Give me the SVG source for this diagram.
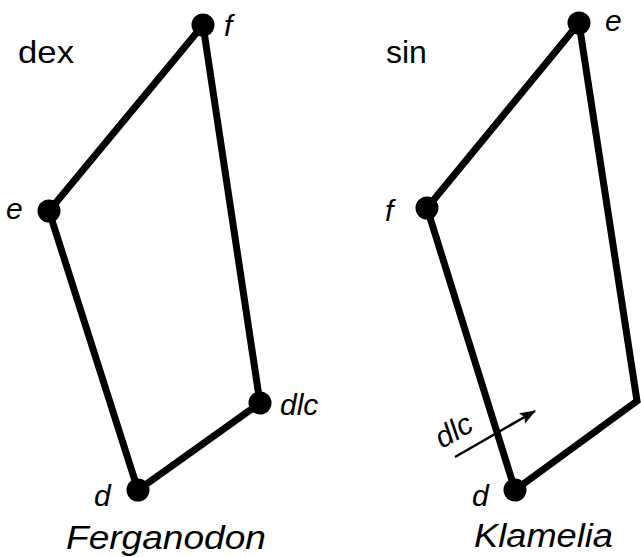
<svg xmlns="http://www.w3.org/2000/svg" width="641" height="557" viewBox="0 0 641 557">
<defs>
<style>
.edge{fill:none;stroke:#000;stroke-width:7;stroke-linejoin:miter;stroke-linecap:round}
.node{fill:#000}
.lbl{font-family:"Liberation Sans",Arial,sans-serif;font-style:italic;font-size:30px;fill:#000}
.side{font-family:"Liberation Sans",Arial,sans-serif;font-size:32px;fill:#000}
.name{font-family:"Liberation Sans",Arial,sans-serif;font-style:italic;font-size:33px;fill:#000}
</style>
<marker id="ah2" viewBox="0 0 16 12" refX="15" refY="6" markerWidth="16" markerHeight="12" markerUnits="userSpaceOnUse" orient="auto">
<path d="M0,0 L16,6 L0,12 L3,6 z" fill="#000"/>
</marker>
</defs>
<rect width="641" height="557" fill="#fff"/>
<g id="connectors">
<polygon class="edge" points="203,25 49,211 138,490 260,403"/>
<polyline class="edge" points="427,208 579,23 637,401 515,490 427,208"/>
<line x1="455" y1="457" x2="535" y2="411" stroke="#000" stroke-width="2.5" marker-end="url(#ah2)"/>
</g>
<g id="left-f"><circle class="node" cx="203" cy="25" r="11.5"/><text class="lbl" x="224" y="36">f</text></g>
<g id="left-e"><circle class="node" cx="49" cy="211" r="11.5"/><text class="lbl" x="6" y="219">e</text></g>
<g id="left-d"><circle class="node" cx="138" cy="490" r="11.5"/><text class="lbl" x="94" y="506">d</text></g>
<g id="left-dlc"><circle class="node" cx="260" cy="403" r="11.5"/><text class="lbl" x="280" y="415">dlc</text></g>
<g id="right-e"><circle class="node" cx="579" cy="23" r="11.5"/><text class="lbl" x="605" y="31">e</text></g>
<g id="right-f"><circle class="node" cx="427" cy="208" r="11.5"/><text class="lbl" x="385" y="221">f</text></g>
<g id="right-d"><circle class="node" cx="515" cy="490" r="11.5"/><text class="lbl" x="472" y="506">d</text></g>
<g id="right-dlc"><text class="lbl" transform="translate(442,449) rotate(-30)">dlc</text></g>
<g id="titles">
<text class="side" x="18" y="63" textLength="56" lengthAdjust="spacingAndGlyphs">dex</text>
<text class="side" x="386" y="63">sin</text>
<text class="name" x="66" y="549" textLength="200" lengthAdjust="spacingAndGlyphs">Ferganodon</text>
<text class="name" x="474" y="547" textLength="139" lengthAdjust="spacingAndGlyphs">Klamelia</text>
</g>
</svg>
